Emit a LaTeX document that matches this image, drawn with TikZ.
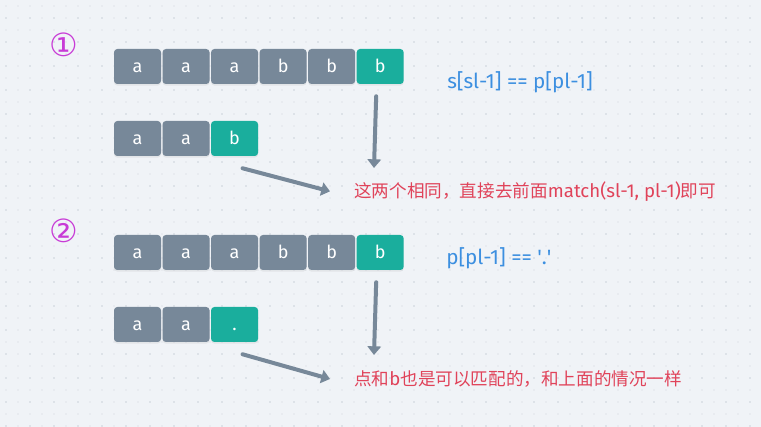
\documentclass[tikz,border=0pt]{standalone}
\usepackage{fontspec}
\setmainfont{Fira Sans}
\newfontfamily\cjk{Noto Sans CJK SC}
\newfontfamily\numfont{DejaVu Sans}
\usetikzlibrary{positioning,arrows.meta,shadows}
\definecolor{bgcol}{HTML}{F0F3F7}
\definecolor{dotcol}{HTML}{D3D9E0}
\definecolor{cellgray}{HTML}{778899}
\definecolor{cellteal}{HTML}{1AAE9D}
\definecolor{numpurple}{HTML}{C83BD6}
\definecolor{condblue}{HTML}{3C8FE0}
\definecolor{noteredd}{HTML}{E0435A}
\newcommand{\zh}[1]{{\cjk\fontsize{13.2}{15}\selectfont #1}}

\begin{document}
\begin{tikzpicture}[x=0.75pt,y=-0.75pt,
	node distance=0.75pt,
	cell/.style={fill=cellgray,text=white,rounded corners=2.5pt,
		minimum width=35.25pt,minimum height=26.25pt,inner sep=0pt,
		font=\fontsize{13.5}{15}\selectfont,text height=9.5pt,text depth=0pt,
		drop shadow={opacity=0.12,shadow xshift=0pt,shadow yshift=-1.2pt}},
	hit/.style={cell,fill=cellteal},
	num/.style={text=numpurple,inner sep=0pt,font=\numfont\fontsize{24}{24}\selectfont},
	cond/.style={anchor=west,inner sep=0pt,text=condblue,font=\fontsize{15.5}{17}\selectfont},
	note/.style={anchor=west,inner sep=0pt,text=noteredd,font=\fontsize{14}{16}\selectfont},
	flow/.style={draw=cellgray,line width=3pt,line cap=round,-{Triangle[width=10pt,length=6.5pt]}}]
	% background with dots
	\fill[bgcol] (0,0) rectangle (761,427);
	\foreach \x in {6,18,...,756}
		\foreach \y in {6,18,...,426}
			\fill[dotcol!70] (\x,\y) circle (0.8);
	\foreach \x in {6,30,...,756}
		\foreach \y in {18,42,...,426}
			\fill[dotcol] (\x,\y) circle (0.9);
	% case 1
	\node[num] (n1) at (64,45) {①};
	\node[cell] (s1) at (137.5,66.5) {a};
	\node[cell,right=of s1] (s2) {a};
	\node[cell,right=of s2] (s3) {a};
	\node[cell,right=of s3] (s4) {b};
	\node[cell,right=of s4] (s5) {b};
	\node[hit,right=of s5] (s6) {b};
	\node[cell] (p1) at (137.5,138.5) {a};
	\node[cell,right=of p1] (p2) {a};
	\node[hit,right=of p2] (p3) {b};
	\node[cond] (c1) at (447,82) {s[sl-1] == p[pl-1]};
	\node[note] (r1) at (354,192) {\zh{这两个相同，直接去前面}match(sl-1, pl-1)\zh{即可}};
	\coordinate (e1) at (374,168);
	\draw[flow] ([xshift=-3pt,yshift=-9pt]s6.south) -- (e1);
	\draw[flow] ([xshift=6pt,yshift=-9pt]p3.south) -- ([xshift=-18pt,yshift=0.5pt]r1.west);
	% case 2
	\node[num] (n2) at (64,231) {②};
	\node[cell] (t1) at (137.5,252.5) {a};
	\node[cell,right=of t1] (t2) {a};
	\node[cell,right=of t2] (t3) {a};
	\node[cell,right=of t3] (t4) {b};
	\node[cell,right=of t4] (t5) {b};
	\node[hit,right=of t5] (t6) {b};
	\node[cell] (q1) at (137.5,324.5) {a};
	\node[cell,right=of q1] (q2) {a};
	\node[hit,right=of q2] (q3) {.};
	\node[cond] (c2) at (446,258) {p[pl-1] == \textquotesingle.\textquotesingle};
	\node[note] (r2) at (354,379) {\zh{点和}b\zh{也是可以匹配的，和上面的情况一样}};
	\coordinate (e2) at (374,355);
	\draw[flow] ([xshift=-3pt,yshift=-9pt]t6.south) -- (e2);
	\draw[flow] ([xshift=6pt,yshift=-9pt]q3.south) -- ([xshift=-18pt,yshift=0pt]r2.west);
\end{tikzpicture}
\end{document}
